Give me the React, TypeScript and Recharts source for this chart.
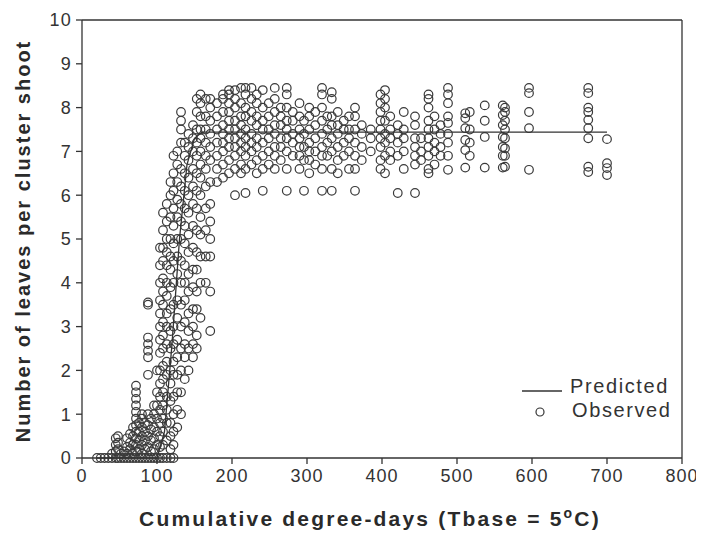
import React from "react";
import { ScatterChart, Scatter, XAxis, YAxis, ReferenceLine } from "recharts";

// Observed data grouped in columns: [cumulative degree-days, [leaf counts...]]
const obsEarly: [number, number[]][] = [
  [20, [0]], [25, [0]], [30, [0]], [35, [0]], [40, [0, 0.1]],
  [45, [0, 0.15, 0.3, 0.45]], [48, [0, 0.2, 0.35, 0.5]], [52, [0, 0.1]], [56, [0, 0.15]],
  [60, [0, 0.1, 0.25, 0.45]], [64, [0, 0.2, 0.35, 0.55]], [68, [0, 0.1, 0.3, 0.5, 0.7]],
  [72, [0, 0.15, 0.3, 0.45, 0.6, 0.75, 0.9, 1.05, 1.2, 1.35, 1.5, 1.65]],
  [76, [0, 0.2, 0.4, 0.6, 0.8]], [80, [0, 0.1, 0.3, 0.5, 0.7, 0.9, 1.0]],
  [84, [0, 0.2, 0.4, 0.6, 0.8]],
  [88, [0, 0.25, 0.5, 0.75, 1.0, 1.9, 2.3, 2.45, 2.6, 2.75, 3.5, 3.55]],
  [92, [0, 0.15, 0.4, 0.65, 0.9]], [96, [0, 0.2, 0.45, 0.7, 1.0, 1.2]],
  [100, [0, 0.3, 0.6, 0.9, 1.2, 1.5, 2.0]],
  [104, [0, 0.25, 0.5, 0.8, 1.1, 1.4, 1.7, 2.0, 2.4, 2.7, 3.0, 3.3, 3.6, 4.0, 4.4, 4.8]],
];

const obsRise: [number, number[]][] = [
  [108, [0, 0.3, 0.6, 0.9, 1.2, 1.5, 1.8, 2.1, 2.5, 2.8, 3.1, 3.5, 3.8, 4.1, 4.5, 4.8, 5.2, 5.6]],
  [113, [0, 0.4, 0.8, 1.1, 1.4, 1.9, 2.2, 2.6, 3.0, 3.3, 3.7, 4.0, 4.4, 4.7, 5.0, 5.4, 5.8]],
  [118, [0, 0.2, 0.5, 0.8, 1.3, 1.7, 2.0, 2.5, 2.9, 3.4, 3.9, 4.3, 4.6, 5.0, 5.5, 6.0, 6.3]],
  [122, [0, 0.3, 0.6, 1.0, 1.4, 1.9, 2.2, 2.6, 3.0, 3.5, 4.0, 4.5, 4.9, 5.3, 5.7, 6.1, 6.5, 6.9]],
  [127, [0.7, 1.1, 1.5, 1.9, 2.3, 2.7, 3.2, 3.6, 4.2, 4.6, 5.0, 5.5, 5.9, 6.3, 6.7, 7.0]],
  [132, [1.0, 1.5, 2.0, 2.5, 3.0, 3.5, 4.0, 4.5, 5.0, 5.4, 5.8, 6.2, 6.6, 7.2, 7.5, 7.7, 7.9]],
  [137, [1.8, 2.3, 2.6, 3.1, 3.6, 4.0, 4.4, 4.9, 5.3, 5.7, 6.1, 6.5, 6.9, 7.2]],
  [142, [2.0, 2.5, 2.9, 3.3, 3.8, 4.2, 4.7, 5.1, 5.6, 6.0, 6.4, 6.8, 7.1, 7.4]],
  [148, [2.3, 2.6, 3.0, 3.4, 3.9, 4.3, 4.8, 5.3, 5.8, 6.2, 6.6, 7.0, 7.3, 7.6]],
  [153, [2.5, 2.8, 3.4, 3.8, 4.3, 4.7, 5.2, 5.7, 6.1, 6.5, 6.9, 7.2, 7.5, 7.9, 8.2]],
  [158, [3.2, 4.0, 4.6, 5.1, 5.5, 6.0, 6.4, 6.7, 7.0, 7.3, 7.5, 7.8, 8.1, 8.3]],
  [165, [4.0, 4.6, 5.2, 5.7, 6.2, 6.6, 6.9, 7.2, 7.5, 7.8, 8.2]],
  [171, [2.9, 3.8, 4.6, 5.0, 5.4, 5.8, 6.3, 6.8, 7.1, 7.4, 7.7, 8.0, 8.2]],
];

const obsPlateau: [number, number[]][] = [
  [180, [6.3, 6.6, 6.9, 7.2, 7.5, 7.8, 8.1]],
  [188, [6.4, 6.7, 7.0, 7.2, 7.4, 7.6, 7.9, 8.2, 8.3]],
  [196, [6.5, 6.8, 7.1, 7.3, 7.5, 7.7, 7.9, 8.1, 8.3, 8.4]],
  [204, [6.0, 6.6, 6.9, 7.1, 7.3, 7.5, 7.7, 8.0, 8.2, 8.4]],
  [212, [6.5, 6.7, 7.0, 7.2, 7.4, 7.6, 7.8, 8.1, 8.45]],
  [218, [6.05, 6.6, 6.9, 7.1, 7.3, 7.5, 7.8, 8.0, 8.3, 8.45]],
  [226, [6.7, 7.0, 7.2, 7.4, 7.7, 7.9, 8.2, 8.45]],
  [233, [6.5, 6.8, 7.1, 7.3, 7.6, 7.8, 8.1, 8.3]],
  [241, [6.1, 6.6, 6.9, 7.2, 7.5, 7.7, 8.0, 8.4]],
  [249, [6.7, 7.0, 7.3, 7.5, 7.8, 8.1]],
  [257, [6.6, 6.9, 7.1, 7.4, 7.6, 7.9, 8.2, 8.45]],
  [265, [6.8, 7.1, 7.3, 7.6, 7.8, 8.0]],
  [273, [6.1, 6.6, 7.0, 7.3, 7.5, 7.7, 8.0, 8.3, 8.45]],
  [281, [6.9, 7.2, 7.4, 7.7, 7.9]],
  [290, [6.6, 6.9, 7.1, 7.3, 7.5, 7.8, 8.1]],
  [296, [6.1, 6.8, 7.1, 7.4, 7.7]],
  [303, [6.5, 6.8, 7.0, 7.2, 7.5, 7.8, 8.0]],
  [311, [6.7, 7.0, 7.3, 7.6, 7.9]],
  [320, [6.1, 6.6, 6.9, 7.1, 7.4, 7.7, 8.0, 8.3, 8.45]],
  [327, [6.9, 7.2, 7.5, 7.8]],
  [333, [6.1, 6.6, 7.0, 7.3, 7.6, 7.8, 8.2, 8.35]],
  [341, [6.5, 6.8, 7.1, 7.4, 7.6, 7.9]],
  [349, [6.9, 7.2, 7.5, 7.7]],
  [356, [6.6, 7.0, 7.3, 7.5, 7.8]],
  [364, [6.1, 6.6, 6.9, 7.2, 7.5, 7.8, 8.0]],
  [373, [6.8, 7.1, 7.4, 7.6]],
  [385, [7.0, 7.3, 7.5]],
  [398, [6.6, 6.8, 7.1, 7.3, 7.5, 7.7, 7.9, 8.1, 8.3]],
  [404, [6.5, 6.9, 7.2, 7.4, 7.7, 8.0, 8.2, 8.4]],
  [411, [6.8, 7.0, 7.3, 7.5, 7.8]],
  [421, [6.05, 6.9, 7.2, 7.4, 7.6]],
  [429, [6.6, 7.0, 7.3, 7.5, 7.9]],
  [444, [6.05, 6.7, 6.9, 7.1, 7.3, 7.6, 7.8]],
  [452, [6.8, 7.0, 7.3]],
  [462, [6.5, 6.6, 6.9, 7.1, 7.3, 7.5, 7.7, 8.0, 8.2, 8.3]],
  [470, [6.7, 7.0, 7.2, 7.5, 7.8]],
  [478, [6.9, 7.1, 7.4, 7.6]],
  [488, [6.58, 6.9, 7.2, 7.4, 7.65, 7.8, 8.1, 8.3, 8.45]],
  [511, [6.63, 7.03, 7.26, 7.53, 7.76, 7.87]],
  [517, [6.9, 7.2, 7.5, 7.9]],
  [537, [6.63, 7.33, 7.7, 8.05]],
  [561, [6.63, 6.9, 7.1, 7.33, 7.6, 7.83, 8.05]],
  [564, [6.65, 6.9, 7.07, 7.3, 7.5, 7.7, 7.9, 8.0]],
  [596, [6.58, 7.53, 7.9, 8.33, 8.45]],
  [675, [6.53, 6.65, 7.3, 7.53, 7.72, 7.9, 8.0, 8.33, 8.45]],
  [700, [6.46, 6.62, 6.73, 7.28]],
];

// Predicted model curve
const predX = [20, 100, 110, 120, 130, 140, 150, 160, 700];
const predY = [0, 0, 0.6, 2.6, 5.0, 6.7, 7.3, 7.44, 7.44];

const xTicks = [0, 100, 200, 300, 400, 500, 600, 700, 800];
const yTicks = [0, 1, 2, 3, 4, 5, 6, 7, 8, 9, 10];

const observed = [...obsEarly, ...obsRise, ...obsPlateau].flatMap(([x, ys]) =>
  ys.map((y) => ({ x, y }))
);
const predicted = predX.map((x, i) => ({ x, y: predY[i] }));

const FONT = "'Liberation Sans', Arial, sans-serif";
const AX = "#333";

const Ring = (p: any) => (
  <circle cx={p.cx} cy={p.cy} r={4.3} fill="none" stroke="#3a3a3a" strokeWidth={1.2} />
);

const legendText: React.CSSProperties = {
  position: "absolute",
  fontFamily: FONT,
  fontSize: 20,
  letterSpacing: 1.6,
  lineHeight: "20px",
  color: "#333",
  whiteSpace: "nowrap",
};

export default function App() {
  return (
    <div style={{ position: "relative", margin: "-8px -8px 0 -8px", width: 704, height: 534 }}>
      <ScatterChart
        width={704}
        height={534}
        margin={{ top: 20, right: 22, bottom: 0, left: 0 }}
        style={{ fontFamily: FONT }}
      >
        <XAxis
          type="number"
          dataKey="x"
          domain={[0, 800]}
          ticks={xTicks}
          interval={0}
          height={76}
          tickSize={6}
          tickMargin={5}
          stroke={AX}
          strokeWidth={1.3}
          tick={{ fill: "#333", fontSize: 18, letterSpacing: 1 }}
          label={{
            content: () => (
              <text
                x={370}
                y={526}
                textAnchor="middle"
                fontFamily={FONT}
                fontWeight="bold"
                fontSize={21}
                letterSpacing={2.2}
                fill="#2a2a2a"
              >
                Cumulative degree-days (Tbase = 5
                <tspan dy={-8} fontSize={14}>o</tspan>
                <tspan dy={8}>C)</tspan>
              </text>
            ),
          }}
        />
        <YAxis
          type="number"
          dataKey="y"
          domain={[0, 10]}
          ticks={yTicks}
          interval={0}
          width={82}
          tickSize={6}
          tickMargin={4}
          stroke={AX}
          strokeWidth={1.3}
          tick={{ fill: "#333", fontSize: 18, letterSpacing: 1.3 }}
          label={{
            content: () => (
              <text
                x={30}
                y={241}
                textAnchor="middle"
                transform="rotate(-90, 30, 241)"
                fontFamily={FONT}
                fontWeight="bold"
                fontSize={20}
                letterSpacing={2}
                fill="#2a2a2a"
              >
                Number of leaves per cluster shoot
              </text>
            ),
          }}
        />
        <ReferenceLine y={10} stroke={AX} strokeWidth={1.3} />
        <ReferenceLine x={800} stroke={AX} strokeWidth={1.3} />
        <Scatter name="Observed" data={observed} shape={Ring} isAnimationActive={false} />
        <Scatter
          name="Predicted"
          data={predicted}
          line={{ stroke: "#333", strokeWidth: 1.3 }}
          shape={() => <g />}
          isAnimationActive={false}
        />
      </ScatterChart>
      <svg style={{ position: "absolute", left: 520, top: 384 }} width={46} height={36}>
        <line x1={2} y1={7} x2={42} y2={7} stroke="#333" strokeWidth={1.3} />
        <circle cx={20} cy={28} r={4} fill="none" stroke="#333" strokeWidth={1.2} />
      </svg>
      <div style={{ ...legendText, left: 570, top: 376 }}>Predicted</div>
      <div style={{ ...legendText, left: 572, top: 400 }}>Observed</div>
    </div>
  );
}
